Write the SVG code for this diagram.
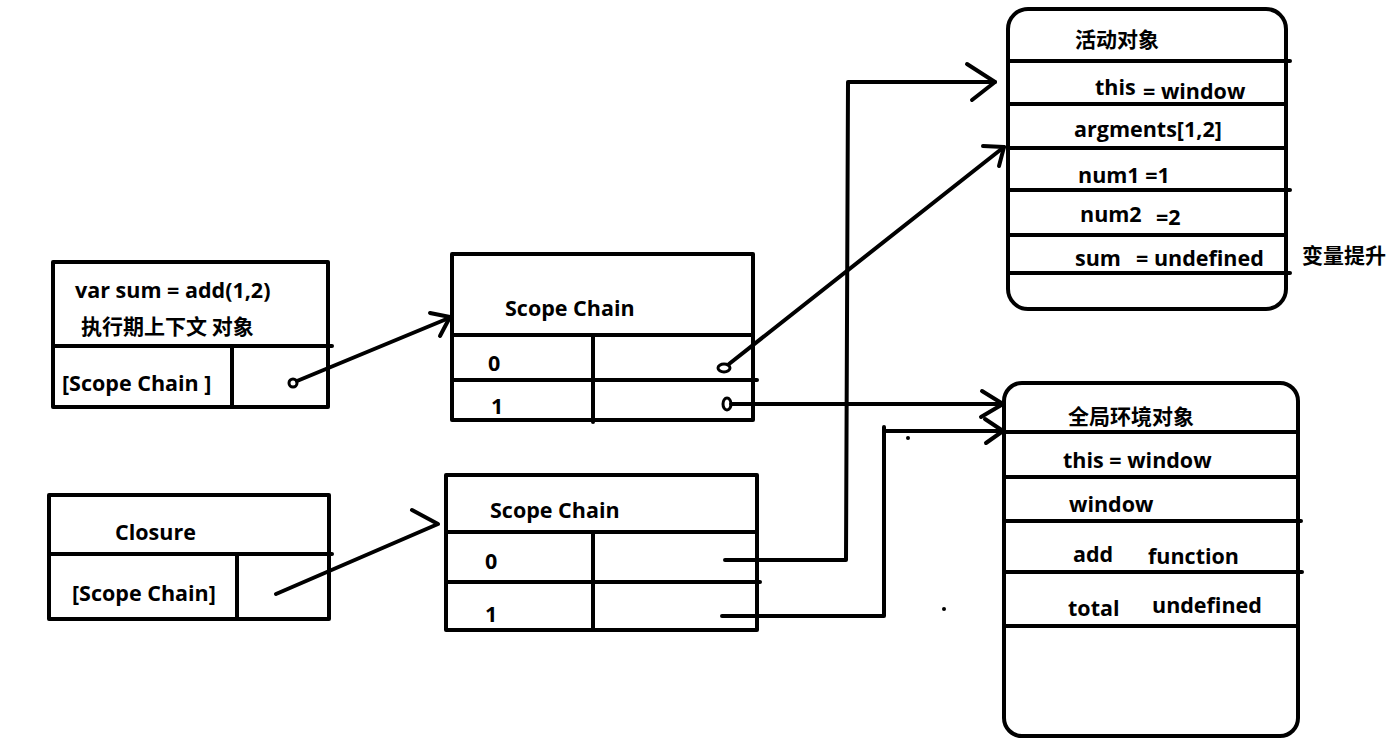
<svg xmlns="http://www.w3.org/2000/svg" width="1390" height="746" viewBox="0 0 1390 746">
<style>
.b{fill:none;stroke:#000;stroke-width:4;stroke-linecap:round;stroke-linejoin:round}
.l{fill:none;stroke:#000;stroke-width:4;stroke-linecap:round;stroke-linejoin:round}
text{font-family:"Open Sans","Noto Sans CJK SC",sans-serif;font-weight:bold;font-size:21.5px;fill:#000}
.c{font-family:"Noto Sans CJK SC",sans-serif;font-size:21px}
</style>
<rect width="1390" height="746" fill="#fff"/>
<g id="exec-context">
<rect class="b" x="53" y="262" width="275" height="145"/>
<line class="b" x1="53" y1="346" x2="332" y2="346"/>
<line class="b" x1="232" y1="346" x2="232" y2="407"/>
<text x="75" y="298">var sum = add(1,2)</text>
<text class="c" x="81" y="334">执行期上下文 对象</text>
<text x="62" y="391">[Scope Chain ]</text>
</g>
<g id="closure">
<rect class="b" x="49" y="495" width="280" height="124"/>
<line class="b" x1="49" y1="554" x2="332" y2="554"/>
<line class="b" x1="237" y1="554" x2="237" y2="619"/>
<text x="115" y="540">Closure</text>
<text x="72" y="601">[Scope Chain]</text>
</g>
<g id="scope-chain-1">
<rect class="b" x="452" y="254" width="301" height="166"/>
<line class="b" x1="452" y1="335" x2="753" y2="335"/>
<line class="b" x1="452" y1="380" x2="757" y2="380"/>
<line class="b" x1="593" y1="335" x2="593" y2="422"/>
<text x="505" y="316">Scope Chain</text>
<text x="488" y="371">0</text>
<text x="491" y="414">1</text>
</g>
<g id="scope-chain-2">
<rect class="b" x="446" y="475" width="311" height="155"/>
<line class="b" x1="446" y1="532" x2="757" y2="532"/>
<line class="b" x1="446" y1="582" x2="760" y2="582"/>
<line class="b" x1="593" y1="532" x2="593" y2="630"/>
<text x="490" y="518">Scope Chain</text>
<text x="485" y="569">0</text>
<text x="485" y="622">1</text>
</g>
<g id="activation-object">
<rect class="b" x="1008" y="9" width="278" height="300" rx="20" ry="20"/>
<line class="b" x1="1008" y1="61" x2="1290" y2="61"/>
<line class="b" x1="1008" y1="104" x2="1286" y2="104"/>
<line class="b" x1="1008" y1="148" x2="1286" y2="148"/>
<line class="b" x1="1008" y1="190" x2="1290" y2="190"/>
<line class="b" x1="1008" y1="235" x2="1286" y2="235"/>
<line class="b" x1="1008" y1="273" x2="1290" y2="273"/>
<text class="c" x="1075" y="47">活动对象</text>
<text x="1095" y="95">this</text>
<text x="1143" y="99">= window</text>
<text x="1074" y="137">argments[1,2]</text>
<text x="1078" y="183">num1 =1</text>
<text x="1080" y="222">num2</text>
<text x="1156" y="225">=2</text>
<text x="1075" y="266">sum</text>
<text x="1136" y="266">= undefined</text>
</g>
<g id="hoisting-label">
<text class="c" x="1302" y="263">变量提升</text>
</g>
<g id="global-object">
<rect class="b" x="1004" y="383" width="294" height="353" rx="18" ry="18"/>
<line class="b" x1="1004" y1="432" x2="1298" y2="432"/>
<line class="b" x1="1004" y1="477" x2="1298" y2="477"/>
<line class="b" x1="1004" y1="521" x2="1301" y2="521"/>
<line class="b" x1="1004" y1="572" x2="1302" y2="572"/>
<line class="b" x1="1004" y1="626" x2="1298" y2="626"/>
<text class="c" x="1068" y="424">全局环境对象</text>
<text x="1063" y="468">this = window</text>
<text x="1069" y="512">window</text>
<text x="1073" y="562">add</text>
<text x="1148" y="564">function</text>
<text x="1068" y="616">total</text>
<text x="1152" y="613">undefined</text>
</g>
<g id="connectors">
<circle cx="293" cy="383" r="4" fill="none" stroke="#000" stroke-width="3"/>
<polyline class="l" points="297,381 449,318"/>
<polyline class="l" points="430,313 450,317 440,336"/>
<polyline class="l" points="276,594 438,524 412,510"/>
<ellipse cx="724" cy="368" rx="6" ry="4" fill="none" stroke="#000" stroke-width="3"/>
<polyline class="l" points="729,364 1004,147"/>
<polyline class="l" points="983,146 1004,147 999,166"/>
<ellipse cx="727" cy="404" rx="4" ry="6" fill="none" stroke="#000" stroke-width="3"/>
<polyline class="l" points="731,404 1003,404"/>
<polyline class="l" points="982,391 1003,404 981,417"/>
<polyline class="l" points="725,560 846,560 848,82 995,82"/>
<polyline class="l" points="967,64 995,82 972,100"/>
<polyline class="l" points="722,616 884,616 884,427 884,431 1003,431"/>
<polyline class="l" points="985,419 1003,431 986,443"/>
<circle cx="908" cy="438" r="2" fill="#000"/>
<circle cx="944" cy="609" r="2" fill="#000"/>
</g>
</svg>
